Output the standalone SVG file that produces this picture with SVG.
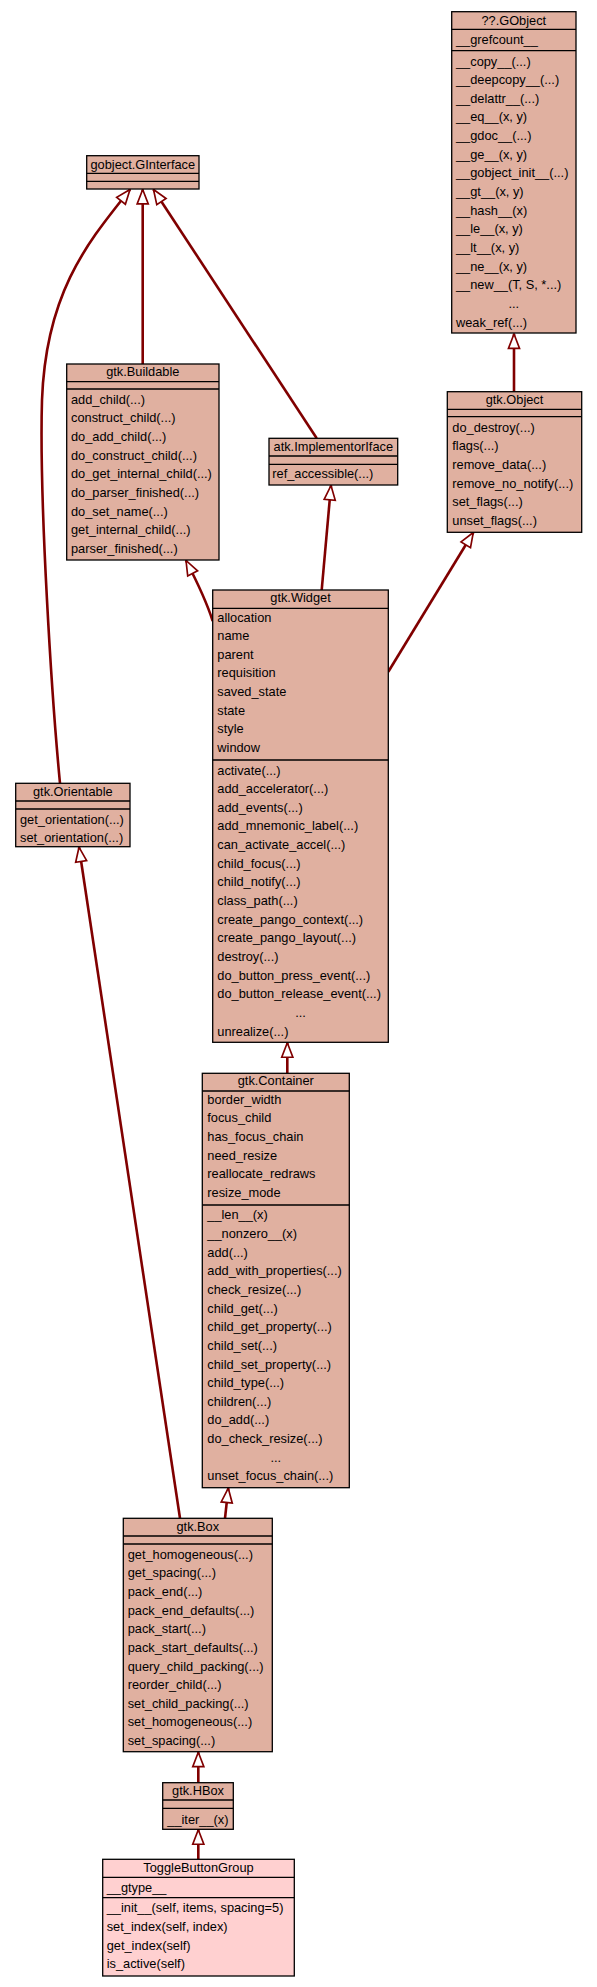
<svg xmlns="http://www.w3.org/2000/svg" width="597" height="1987" viewBox="0 0 597 1987">
<style>
.n rect{fill:#e0b0a0;stroke:#000;stroke-width:1.3}
.n line{stroke:#000;stroke-width:1.3}
.n.sel rect{fill:#ffd0d0}
text{font-family:"Liberation Sans",Arial,Helvetica,sans-serif;font-size:12.8px;fill:#000}
.c{text-anchor:middle}
.e{fill:none;stroke:#800000;stroke-width:2.6}
</style>
<defs>
<marker id="inh" markerUnits="userSpaceOnUse" markerWidth="20" markerHeight="20" refX="0" refY="0" viewBox="-16 -8 18 16" orient="auto-start-reverse" overflow="visible">
<path d="M0,0 L-13,-5 L-13,5 Z" fill="#fff" stroke="#800000" stroke-width="1.5"/>
</marker>
</defs>
<rect x="0" y="0" width="597" height="1987" fill="#fff"/>
<g id="edges">
<path class="e" marker-start="url(#inh)" d="M514,334 L514,391.7"/>
<path class="e" marker-start="url(#inh)" d="M130,189.5 C90,240 46,290 42,400 C39,500 52,700 60,783.3"/>
<path class="e" marker-start="url(#inh)" d="M142.7,189.5 L142.7,364"/>
<path class="e" marker-start="url(#inh)" d="M153.5,189.5 L316.7,438.3"/>
<path class="e" marker-start="url(#inh)" d="M331,485.5 L321.7,590"/>
<path class="e" marker-start="url(#inh)" d="M186,560.5 C193,574 206,600 212.7,621"/>
<path class="e" marker-start="url(#inh)" d="M473.3,532.5 L388.3,671.7"/>
<path class="e" marker-start="url(#inh)" d="M287.3,1042.8 L287.3,1073.3"/>
<path class="e" marker-start="url(#inh)" d="M79,847.2 L180,1518.3"/>
<path class="e" marker-start="url(#inh)" d="M228.3,1488.2 L225,1518.3"/>
<path class="e" marker-start="url(#inh)" d="M198.3,1752.2 L198.3,1782.7"/>
<path class="e" marker-start="url(#inh)" d="M198.3,1829.8 L198.3,1859.3"/>
</g>
<g id="GObject" class="n">
<rect x="451.7" y="11.7" width="124.3" height="321.3"/>
<line x1="451.7" y1="29.3" x2="576" y2="29.3"/>
<line x1="451.7" y1="50.7" x2="576" y2="50.7"/>
<text class="c" x="513.8" y="24.5">??.GObject</text>
<text x="456" y="43.5">__grefcount__</text>
<text x="456" y="65.5">__copy__(...)</text>
<text x="456" y="84.15">__deepcopy__(...)</text>
<text x="456" y="102.8">__delattr__(...)</text>
<text x="456" y="121.45">__eq__(x, y)</text>
<text x="456" y="140.1">__gdoc__(...)</text>
<text x="456" y="158.75">__ge__(x, y)</text>
<text x="456" y="177.4">__gobject_init__(...)</text>
<text x="456" y="196.05">__gt__(x, y)</text>
<text x="456" y="214.7">__hash__(x)</text>
<text x="456" y="233.35">__le__(x, y)</text>
<text x="456" y="252">__lt__(x, y)</text>
<text x="456" y="270.65">__ne__(x, y)</text>
<text x="456" y="289.3">__new__(T, S, *...)</text>
<text class="c" x="513.8" y="307.95">...</text>
<text x="456" y="326.6">weak_ref(...)</text>
</g>
<g id="Object" class="n">
<rect x="447.3" y="391.7" width="134.4" height="140.6"/>
<line x1="447.3" y1="409.3" x2="581.7" y2="409.3"/>
<line x1="447.3" y1="416.7" x2="581.7" y2="416.7"/>
<text class="c" x="514.5" y="403.8">gtk.Object</text>
<text x="452.3" y="431.8">do_destroy(...)</text>
<text x="452.3" y="450.45">flags(...)</text>
<text x="452.3" y="469.1">remove_data(...)</text>
<text x="452.3" y="487.75">remove_no_notify(...)</text>
<text x="452.3" y="506.4">set_flags(...)</text>
<text x="452.3" y="525.05">unset_flags(...)</text>
</g>
<g id="GInterface" class="n">
<rect x="86.7" y="155.7" width="112.3" height="33.3"/>
<line x1="86.7" y1="173.3" x2="199" y2="173.3"/>
<line x1="86.7" y1="181.3" x2="199" y2="181.3"/>
<text class="c" x="142.8" y="168.5">gobject.GInterface</text>
</g>
<g id="Buildable" class="n">
<rect x="66.7" y="364" width="152.3" height="196"/>
<line x1="66.7" y1="381.7" x2="219" y2="381.7"/>
<line x1="66.7" y1="389" x2="219" y2="389"/>
<text class="c" x="142.8" y="376.2">gtk.Buildable</text>
<text x="71" y="403.8">add_child(...)</text>
<text x="71" y="422.45">construct_child(...)</text>
<text x="71" y="441.1">do_add_child(...)</text>
<text x="71" y="459.75">do_construct_child(...)</text>
<text x="71" y="478.4">do_get_internal_child(...)</text>
<text x="71" y="497.05">do_parser_finished(...)</text>
<text x="71" y="515.7">do_set_name(...)</text>
<text x="71" y="534.35">get_internal_child(...)</text>
<text x="71" y="553">parser_finished(...)</text>
</g>
<g id="ImplementorIface" class="n">
<rect x="269" y="438.3" width="128.7" height="46.7"/>
<line x1="269" y1="456" x2="397.7" y2="456"/>
<line x1="269" y1="464.3" x2="397.7" y2="464.3"/>
<text class="c" x="333.3" y="450.5">atk.ImplementorIface</text>
<text x="272.3" y="477.8">ref_accessible(...)</text>
</g>
<g id="Widget" class="n">
<rect x="212.7" y="590" width="175.6" height="452.3"/>
<line x1="212.7" y1="608.3" x2="388.3" y2="608.3"/>
<line x1="212.7" y1="760" x2="388.3" y2="760"/>
<text class="c" x="300.5" y="601.8">gtk.Widget</text>
<text x="217.3" y="621.5">allocation</text>
<text x="217.3" y="640.15">name</text>
<text x="217.3" y="658.8">parent</text>
<text x="217.3" y="677.45">requisition</text>
<text x="217.3" y="696.1">saved_state</text>
<text x="217.3" y="714.75">state</text>
<text x="217.3" y="733.4">style</text>
<text x="217.3" y="752.05">window</text>
<text x="217.3" y="774.5">activate(...)</text>
<text x="217.3" y="793.15">add_accelerator(...)</text>
<text x="217.3" y="811.8">add_events(...)</text>
<text x="217.3" y="830.45">add_mnemonic_label(...)</text>
<text x="217.3" y="849.1">can_activate_accel(...)</text>
<text x="217.3" y="867.75">child_focus(...)</text>
<text x="217.3" y="886.4">child_notify(...)</text>
<text x="217.3" y="905.05">class_path(...)</text>
<text x="217.3" y="923.7">create_pango_context(...)</text>
<text x="217.3" y="942.35">create_pango_layout(...)</text>
<text x="217.3" y="961">destroy(...)</text>
<text x="217.3" y="979.65">do_button_press_event(...)</text>
<text x="217.3" y="998.3">do_button_release_event(...)</text>
<text class="c" x="300.5" y="1016.95">...</text>
<text x="217.3" y="1035.6">unrealize(...)</text>
</g>
<g id="Orientable" class="n">
<rect x="15.7" y="783.3" width="114.3" height="63.4"/>
<line x1="15.7" y1="801" x2="130" y2="801"/>
<line x1="15.7" y1="809" x2="130" y2="809"/>
<text class="c" x="72.8" y="796.2">gtk.Orientable</text>
<text x="20" y="823.8">get_orientation(...)</text>
<text x="20" y="842.45">set_orientation(...)</text>
</g>
<g id="Container" class="n">
<rect x="202.3" y="1073.3" width="147" height="414.4"/>
<line x1="202.3" y1="1091" x2="349.3" y2="1091"/>
<line x1="202.3" y1="1205" x2="349.3" y2="1205"/>
<text class="c" x="275.8" y="1085.2">gtk.Container</text>
<text x="207.3" y="1103.8">border_width</text>
<text x="207.3" y="1122.45">focus_child</text>
<text x="207.3" y="1141.1">has_focus_chain</text>
<text x="207.3" y="1159.75">need_resize</text>
<text x="207.3" y="1178.4">reallocate_redraws</text>
<text x="207.3" y="1197.05">resize_mode</text>
<text x="207.3" y="1219.3">__len__(x)</text>
<text x="207.3" y="1237.95">__nonzero__(x)</text>
<text x="207.3" y="1256.6">add(...)</text>
<text x="207.3" y="1275.25">add_with_properties(...)</text>
<text x="207.3" y="1293.9">check_resize(...)</text>
<text x="207.3" y="1312.55">child_get(...)</text>
<text x="207.3" y="1331.2">child_get_property(...)</text>
<text x="207.3" y="1349.85">child_set(...)</text>
<text x="207.3" y="1368.5">child_set_property(...)</text>
<text x="207.3" y="1387.15">child_type(...)</text>
<text x="207.3" y="1405.8">children(...)</text>
<text x="207.3" y="1424.45">do_add(...)</text>
<text x="207.3" y="1443.1">do_check_resize(...)</text>
<text class="c" x="275.8" y="1461.75">...</text>
<text x="207.3" y="1480.4">unset_focus_chain(...)</text>
</g>
<g id="Box" class="n">
<rect x="123.3" y="1518.3" width="149" height="233.4"/>
<line x1="123.3" y1="1536" x2="272.3" y2="1536"/>
<line x1="123.3" y1="1544" x2="272.3" y2="1544"/>
<text class="c" x="197.8" y="1530.5">gtk.Box</text>
<text x="127.7" y="1558.6">get_homogeneous(...)</text>
<text x="127.7" y="1577.25">get_spacing(...)</text>
<text x="127.7" y="1595.9">pack_end(...)</text>
<text x="127.7" y="1614.55">pack_end_defaults(...)</text>
<text x="127.7" y="1633.2">pack_start(...)</text>
<text x="127.7" y="1651.85">pack_start_defaults(...)</text>
<text x="127.7" y="1670.5">query_child_packing(...)</text>
<text x="127.7" y="1689.15">reorder_child(...)</text>
<text x="127.7" y="1707.8">set_child_packing(...)</text>
<text x="127.7" y="1726.45">set_homogeneous(...)</text>
<text x="127.7" y="1745.1">set_spacing(...)</text>
</g>
<g id="HBox" class="n">
<rect x="162.7" y="1782.7" width="70.6" height="46.6"/>
<line x1="162.7" y1="1800" x2="233.3" y2="1800"/>
<line x1="162.7" y1="1808.3" x2="233.3" y2="1808.3"/>
<text class="c" x="198" y="1794.5">gtk.HBox</text>
<text x="167.3" y="1823.5">__iter__(x)</text>
</g>
<g id="ToggleButtonGroup" class="n sel">
<rect x="102.7" y="1859.3" width="191.6" height="116.7"/>
<line x1="102.7" y1="1877.3" x2="294.3" y2="1877.3"/>
<line x1="102.7" y1="1897.7" x2="294.3" y2="1897.7"/>
<text class="c" x="198.5" y="1872.2">ToggleButtonGroup</text>
<text x="106.7" y="1891.8">__gtype__</text>
<text x="106.7" y="1912.2">__init__(self, items, spacing=5)</text>
<text x="106.7" y="1930.85">set_index(self, index)</text>
<text x="106.7" y="1949.5">get_index(self)</text>
<text x="106.7" y="1968.15">is_active(self)</text>
</g>
</svg>
